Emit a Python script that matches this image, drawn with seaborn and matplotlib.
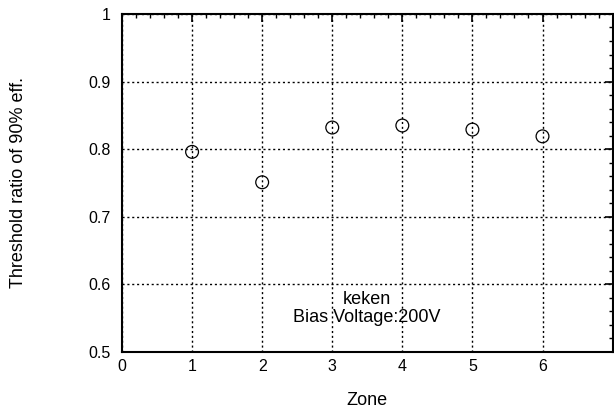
import matplotlib
matplotlib.use("Agg")
import matplotlib.pyplot as plt
import seaborn as sns
import pandas as pd
from matplotlib.ticker import AutoMinorLocator

zones = [1, 2, 3, 4, 5, 6]
ratios = [0.796, 0.751, 0.832, 0.835, 0.829, 0.819]
xticks = [0, 1, 2, 3, 4, 5, 6]
yticks = [0.5, 0.6, 0.7, 0.8, 0.9, 1.0]
ytick_labels = ["0.5", "0.6", "0.7", "0.8", "0.9", "1"]

sns.set_theme(style="white")
plt.rcParams['font.family'] = ['Liberation Sans', 'DejaVu Sans']
plt.rcParams['text.color'] = 'black'
plt.rcParams['axes.labelcolor'] = 'black'
plt.rcParams['xtick.color'] = 'black'
plt.rcParams['ytick.color'] = 'black'

df = pd.DataFrame({"Zone": zones, "ratio": ratios})

fig = plt.figure(figsize=(6.14, 4.11), dpi=100)
ax = fig.add_axes([0.1987, 0.1436, 0.7990, 0.8224])

sns.scatterplot(data=df, x="Zone", y="ratio", ax=ax, marker="o", s=85,
                facecolor="none", edgecolor="black", linewidth=0.9, zorder=3)

ax.set_xlim(0, 7)
ax.set_ylim(0.5, 1.0)
ax.set_xticks(xticks)
ax.set_xticklabels([str(t) for t in xticks], fontsize=11.5)
ax.set_yticks(yticks)
ax.set_yticklabels(ytick_labels, fontsize=11.5)
ax.xaxis.set_minor_locator(AutoMinorLocator(5))
ax.yaxis.set_minor_locator(AutoMinorLocator(5))
ax.tick_params(which="both", direction="in", top=True, right=True,
               color="black", labelcolor="black")
ax.tick_params(which="major", length=6, width=1.2)
ax.tick_params(axis="x", which="major", pad=5)
ax.tick_params(axis="y", which="major", pad=8)
ax.tick_params(which="minor", length=3, width=1.0)

ax.grid(True, which="major", linestyle=(0, (1.5, 2)), color="black", linewidth=1.0)
for s in ax.spines.values():
    s.set_color("black")
    s.set_linewidth(1.5)

ax.set_xlabel("Zone", fontsize=13, labelpad=13, color="black")
ax.set_ylabel("Threshold ratio of 90% eff.", fontsize=13, labelpad=44, color="black")

ax.text(3.49, 0.578, "keken", ha="center", va="center", fontsize=13, color="black")
ax.text(3.49, 0.551, "Bias Voltage:200V", ha="center", va="center", fontsize=13, color="black")

fig.savefig("out.png", dpi=100, facecolor="white")
